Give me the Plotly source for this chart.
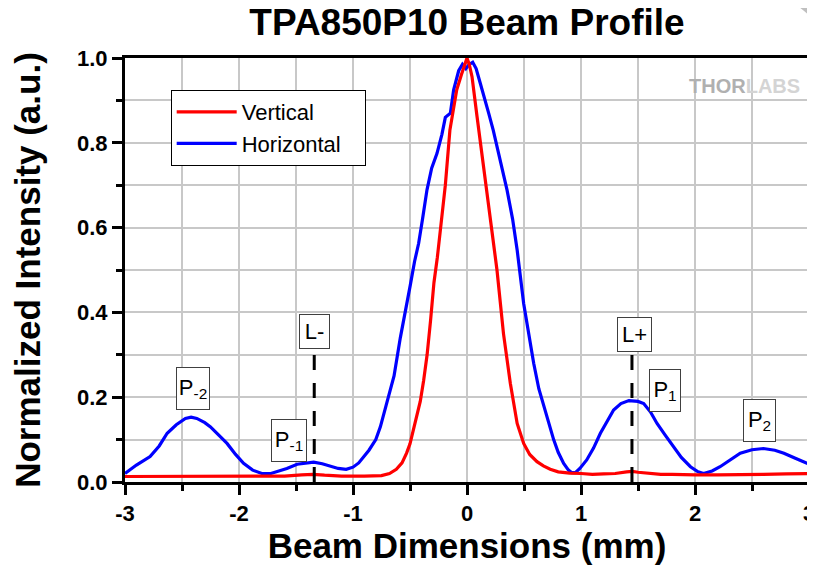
import plotly.graph_objects as go

# ---------------- data ----------------
vert_x = [-3.0, -2.5, -2.0, -1.6, -1.45, -1.35, -1.25, -1.1, -0.9, -0.75, -0.68, -0.62,
          -0.57, -0.53, -0.5, -0.45, -0.41, -0.38, -0.35, -0.32, -0.29, -0.26, -0.23,
          -0.19, -0.15, -0.12, -0.09, -0.05, -0.02, 0.0, 0.02, 0.044, 0.088, 0.146,
          0.205, 0.263, 0.32, 0.38, 0.44, 0.497, 0.55, 0.614, 0.67, 0.73, 0.8, 0.9,
          1.0, 1.1, 1.2, 1.3, 1.4, 1.45, 1.5, 1.6, 1.7, 1.8, 1.9, 2.0, 2.2, 2.4, 2.6,
          2.8, 3.0]
vert_y = [0.013, 0.013, 0.013, 0.014, 0.017, 0.018, 0.016, 0.014, 0.014, 0.015, 0.02, 0.03,
          0.045, 0.068, 0.09, 0.15, 0.19, 0.24, 0.30, 0.38, 0.47, 0.53, 0.60,
          0.70, 0.83, 0.88, 0.925, 0.96, 0.985, 1.0, 0.985, 0.956, 0.862, 0.744,
          0.61, 0.50, 0.35, 0.233, 0.138, 0.091, 0.065, 0.048, 0.038, 0.03, 0.024, 0.021,
          0.02, 0.018, 0.019, 0.02, 0.024, 0.025, 0.023, 0.02, 0.018, 0.018, 0.017, 0.017, 0.017, 0.017, 0.018,
          0.019, 0.02]

horiz_x = [-3.0, -2.9, -2.78, -2.7, -2.63, -2.55, -2.47, -2.42, -2.37, -2.3, -2.25, -2.18,
           -2.105, -2.03, -1.96, -1.88, -1.8, -1.72, -1.667, -1.58, -1.49, -1.42, -1.345,
           -1.27, -1.2, -1.13, -1.06, -1.0, -0.95, -0.907, -0.86, -0.8, -0.76, -0.71,
           -0.673, -0.64, -0.585, -0.54, -0.497, -0.46, -0.424, -0.39, -0.351, -0.31,
           -0.263, -0.22, -0.19, -0.146, -0.117, -0.073, -0.04, -0.01, 0.02, 0.05, 0.08,
           0.117, 0.15, 0.19, 0.23, 0.263, 0.31, 0.351, 0.4, 0.44, 0.497, 0.54, 0.585,
           0.63, 0.673, 0.72, 0.76, 0.8, 0.848, 0.89, 0.92, 0.95, 0.99, 1.05, 1.11, 1.17,
           1.23, 1.286, 1.35, 1.42, 1.5, 1.55, 1.61, 1.667, 1.74, 1.81, 1.88, 1.96, 2.02,
           2.075, 2.15, 2.22, 2.3, 2.397, 2.5, 2.6, 2.7, 2.78, 2.88, 2.98, 3.0]
horiz_y = [0.02, 0.04, 0.06, 0.085, 0.115, 0.135, 0.15, 0.153, 0.15, 0.14, 0.13, 0.11,
           0.091, 0.065, 0.044, 0.028, 0.02, 0.02, 0.024, 0.032, 0.042, 0.045, 0.047,
           0.043, 0.038, 0.032, 0.03, 0.035, 0.045, 0.058, 0.075, 0.1, 0.13, 0.18,
           0.22, 0.25, 0.34, 0.40, 0.465, 0.52, 0.563, 0.62, 0.689, 0.74,
           0.775, 0.82, 0.86, 0.87, 0.925, 0.97, 0.985, 0.975, 0.985, 0.99, 0.975,
           0.94, 0.91, 0.87, 0.83, 0.79, 0.74, 0.689, 0.62, 0.547, 0.421, 0.35, 0.28,
           0.22, 0.178, 0.135, 0.1, 0.07, 0.044, 0.028, 0.022, 0.022, 0.032, 0.052, 0.08, 0.115,
           0.145, 0.17, 0.185, 0.192, 0.19, 0.185, 0.165, 0.138, 0.11, 0.083, 0.058, 0.036, 0.025,
           0.02, 0.026, 0.036, 0.05, 0.068, 0.076, 0.079, 0.075, 0.068, 0.056, 0.044, 0.042]

x_tick_vals = [-3, -2, -1, 0, 1, 2, 3]
x_tick_text = ["-3", "-2", "-1", "0", "1", "2", "3"]

# lobe / limit labels
label_text = ["P<sub>-2</sub>", "P<sub>-1</sub>", "L-", "L+", "P<sub>1</sub>", "P<sub>2</sub>"]
label_x = [-2.405, -1.559, -1.337, 1.472, 1.737, 2.564]
label_y = [0.22, 0.097, 0.356, 0.349, 0.216, 0.146]
label_w = [30, 32, 27, 31, 28, 29]
label_h = [39, 39, 31, 31, 39, 39]
limit_x = [-1.34, 1.447]
limit_top = 0.303

FONT = "Liberation Sans, Arial, sans-serif"
NBSP = "\u00a0"

fig = go.Figure()
fig.add_trace(go.Scatter(x=horiz_x, y=horiz_y, mode="lines", name="Horizontal" + NBSP * 3,
                         line=dict(color="#0000ff", width=3.2)))
fig.add_trace(go.Scatter(x=vert_x, y=vert_y, mode="lines", name="Vertical",
                         line=dict(color="#ff0000", width=3.2)))

for lx in limit_x:
    fig.add_shape(type="line", xref="x", yref="y", x0=lx, x1=lx, y0=0, y1=limit_top,
                  line=dict(color="black", width=3, dash="15px,13px"), layer="above")

for t, ax_, ay_, w, h in zip(label_text, label_x, label_y, label_w, label_h):
    fig.add_annotation(x=ax_, y=ay_, xref="x", yref="y", text=t, showarrow=False,
                       width=w, height=h, align="center", valign="middle",
                       font=dict(family=FONT, size=22, color="black"),
                       bgcolor="white", bordercolor="#404040", borderwidth=1, borderpad=1)

# watermark
fig.add_annotation(x=0.99, y=0.935, xref="paper", yref="paper", xanchor="right", yanchor="middle",
                   text="<span style='color:#b0b0b0'>THOR</span><span style='color:#d4d4d4'>LABS</span>",
                   showarrow=False, font=dict(family=FONT, size=20, weight="bold"))

# page-curl decoration in the top-right corner
fig.add_shape(type="path", xref="paper", yref="paper", layer="above",
              path="M 0.968 1.137 Q 0.99 1.12 1.009 1.085 L 1.009 1.137 Z",
              fillcolor="#8a8a8a", opacity=0.55, line=dict(width=0))

# the page body adds an 8 px offset, so the figure is 8 px smaller on each side
fig.update_layout(
    width=807, height=561,
    margin=dict(l=117, r=6, t=50, b=87),
    paper_bgcolor="white", plot_bgcolor="white",
    font=dict(family=FONT, color="black"),
    title=dict(text="TPA850P10 Beam Profile", x=0.5, xref="paper", xanchor="center",
               y=1 - 14 / 561, yref="container", yanchor="middle",
               font=dict(family=FONT, size=37, weight="bold", color="black")),
    showlegend=True,
    legend=dict(x=0.0668, y=0.9245, xanchor="left", yanchor="top", traceorder="reversed",
                bgcolor="white", bordercolor="black", borderwidth=1,
                font=dict(family=FONT, size=22, color="black"), itemwidth=60),
    xaxis=dict(range=[-3, 3], tickmode="array", tickvals=x_tick_vals, ticktext=x_tick_text,
               automargin=False, ticklabeloverflow="allow",
               ticks="outside", ticklen=10, tickwidth=3, tickcolor="black",
               showline=True, linecolor="black", linewidth=3, mirror=True,
               showgrid=True, gridcolor="#c8c8c8", gridwidth=2, zeroline=False,
               minor=dict(tickmode="linear", tick0=-3, dtick=0.5, ticks="outside", ticklen=6,
                          tickwidth=3, tickcolor="black", showgrid=True, gridcolor="#c8c8c8", gridwidth=2),
               tickfont=dict(family=FONT, size=22, weight="bold"),
               title=dict(text="Beam Dimensions (mm)", standoff=6,
                          font=dict(family=FONT, size=35, weight="bold"))),
    yaxis=dict(range=[0, 1], tickmode="linear", tick0=0, dtick=0.2, tickformat=".1f",
               automargin=False,
               ticks="outside", ticklen=10, tickwidth=3, tickcolor="black",
               showline=True, linecolor="black", linewidth=3, mirror=True,
               showgrid=True, gridcolor="#c8c8c8", gridwidth=2, zeroline=False,
               minor=dict(tickmode="linear", tick0=0, dtick=0.1, ticks="outside", ticklen=6,
                          tickwidth=3, tickcolor="black", showgrid=True, gridcolor="#c8c8c8", gridwidth=2),
               tickfont=dict(family=FONT, size=22, weight="bold"),
               title=dict(text="Normalized Intensity (a.u.)", standoff=41,
                          font=dict(family=FONT, size=35, weight="bold"))),
)

fig.write_html("out.html")
